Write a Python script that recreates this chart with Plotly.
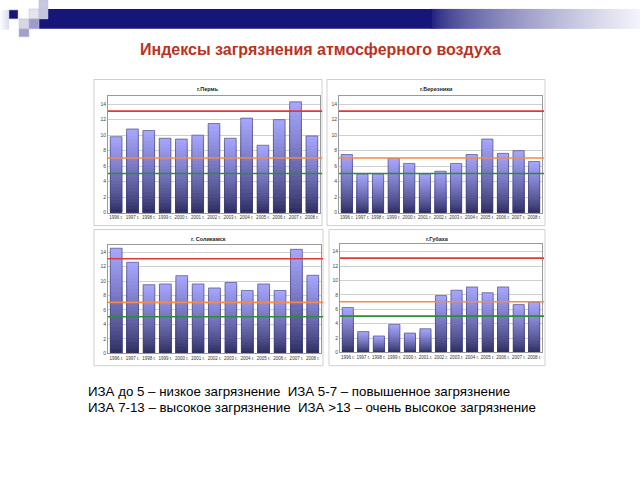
import plotly.graph_objects as go

years = ["1996 г.", "1997 г.", "1998 г.", "1999 г.", "2000 г.", "2001 г.", "2002 г.",
         "2003 г.", "2004 г.", "2005 г.", "2006 г.", "2007 г.", "2008 г."]

perm = [9.8, 10.8, 10.6, 9.6, 9.5, 10.0, 11.5, 9.6, 12.2, 8.7, 12.0, 14.3, 9.9]
berezniki = [7.5, 5.0, 5.0, 7.0, 6.35, 5.0, 5.35, 6.35, 7.5, 9.5, 7.65, 8.0, 6.6]
solikamsk = [14.55, 12.6, 9.5, 9.6, 10.75, 9.6, 9.05, 9.8, 8.7, 9.6, 8.7, 14.4, 10.8]
gubakha = [6.25, 2.9, 2.3, 3.9, 2.7, 3.3, 7.9, 8.65, 9.1, 8.3, 9.1, 6.65, 7.0]

city_titles = ["г.Пермь", "г.Березники", "г. Соликамск", "г.Губаха"]
series = [perm, berezniki, solikamsk, gubakha]
thresholds = [13.1, 7.05, 5.05]
threshold_colors = ["#e0383a", "#f58a4a", "#2f8a3a"]

title_text = "Индексы загрязнения атмосферного воздуха"
legend_lines = ["ИЗА до 5 – низкое загрязнение  ИЗА 5-7 – повышенное загрязнение",
                "ИЗА 7-13 – высокое загрязнение  ИЗА >13 – очень высокое загрязнение"]

W, H = 640, 480

plot_boxes = [(108, 320, 97, 214), (339, 542, 97, 214),
              (108, 321, 246.5, 355.5), (340, 542, 246, 354.7)]
frames = [(94, 322, 80, 227), (327, 545, 80, 227),
          (94, 323, 231, 368), (329, 545, 231, 368)]

def px(x):
    return x / W

def py(y):
    return 1 - y / H

fig = go.Figure()

N = 24
top_c = (168, 168, 255)
bot_c = (40, 40, 90)

for k, vals in enumerate(series):
    xa = "x" if k == 0 else f"x{k+1}"
    ya = "y" if k == 0 else f"y{k+1}"
    for i in range(N):
        frac = (N - i) / N
        t = (frac - 0.5 / N) ** 0.75
        c = tuple(int(bot_c[j] + (top_c[j] - bot_c[j]) * t) for j in range(3))
        fig.add_trace(go.Bar(
            x=years, y=[v * frac for v in vals],
            xaxis=xa, yaxis=ya, marker=dict(color=f"rgb{c}", line=dict(width=0)),
            width=0.72, showlegend=False, hoverinfo="skip"))
    fig.add_trace(go.Bar(
        x=years, y=vals, xaxis=xa, yaxis=ya, width=0.72,
        marker=dict(color="rgba(0,0,0,0)", line=dict(color="#3a3a70", width=0.6)),
        showlegend=False))

layout = dict(width=W, height=H, margin=dict(l=0, r=0, t=0, b=0),
              paper_bgcolor="white", plot_bgcolor="white", barmode="overlay",
              font=dict(family="Liberation Sans, Arial, sans-serif"))

shapes = []
annotations = []

for k, (x0, x1, yt, yb) in enumerate(plot_boxes):
    sfx = "" if k == 0 else str(k + 1)
    layout[f"xaxis{sfx}"] = dict(
        domain=[px(x0), px(x1)], anchor=f"y{sfx}", showgrid=False,
        showline=True, linecolor="#9a9a9a", linewidth=0.8, mirror=True,
        tickfont=dict(size=4.5, color="#333"), tickangle=0, ticks="", fixedrange=True)
    layout[f"yaxis{sfx}"] = dict(
        domain=[py(yb), py(yt)], anchor=f"x{sfx}", range=[0, 15],
        tickvals=[0, 2, 4, 6, 8, 10, 12, 14], showgrid=True, gridcolor="#cfcfcf",
        gridwidth=0.7, showline=True, linecolor="#9a9a9a", linewidth=0.8, mirror=True,
        tickfont=dict(size=5, color="#444"), zeroline=False, ticks="", fixedrange=True)
    for thr, col in zip(thresholds, threshold_colors):
        shapes.append(dict(type="line", xref=f"x{sfx} domain", yref=f"y{sfx}",
                           x0=0, x1=1.01, y0=thr, y1=thr,
                           line=dict(color=col, width=1.6)))
    fx0, fx1, fyt, _ = frames[k]
    annotations.append(dict(text=f"<b>{city_titles[k]}</b>", x=px((fx0 + fx1) / 2),
                            y=py(fyt + 10), xref="paper", yref="paper",
                            xanchor="center", yanchor="middle",
                            showarrow=False, font=dict(size=5.5, color="#222")))

for (x0, x1, yt, yb) in frames:
    shapes.append(dict(type="rect", xref="paper", yref="paper",
                       x0=px(x0), x1=px(x1), y0=py(yb), y1=py(yt),
                       line=dict(color="#c4c4c4", width=0.8), layer="below"))

# decorative header
squares = [
    (9, 18, 10, 19, "rgb(22,22,122)"),
    (39, 48, 0, 9, "rgb(200,200,226)"),
    (29, 39, 9, 19, "rgb(228,228,238)"),
    (39, 48, 9, 19, "rgb(196,196,222)"),
    (19, 29, 19, 29, "rgb(214,214,232)"),
    (29, 39, 19, 29, "rgb(156,156,204)"),
    (19, 29, 29, 37, "rgb(160,160,206)"),
]
for i in range(9):
    t = i / 9
    v = int(250 - 30 * t)
    shapes.append(dict(type="rect", xref="paper", yref="paper",
                       x0=px(i), x1=px(i + 1.05), y0=py(30), y1=py(10),
                       fillcolor=f"rgb({v},{v},{min(255, v + 12)})",
                       line=dict(width=0)))
shapes.append(dict(type="rect", xref="paper", yref="paper", x0=px(48), x1=px(430),
                   y0=py(19), y1=py(9), fillcolor="rgb(22,22,122)", line=dict(width=0)))
shapes.append(dict(type="rect", xref="paper", yref="paper", x0=px(39), x1=px(430),
                   y0=py(29), y1=py(19), fillcolor="rgb(22,22,122)", line=dict(width=0)))
steps = 105
for i in range(steps):
    t0 = i / steps
    xa0 = 430 + 210 * t0
    xa1 = 430 + 210 * (i + 1) / steps + 0.6
    s = t0 ** 0.6
    r = int(22 + (245 - 22) * s)
    b = int(122 + (252 - 122) * s)
    shapes.append(dict(type="rect", xref="paper", yref="paper", x0=px(xa0), x1=px(xa1),
                       y0=py(29), y1=py(9), fillcolor=f"rgb({r},{r},{b})",
                       line=dict(width=0)))
for (x0, x1, y0, y1, col) in squares:
    shapes.append(dict(type="rect", xref="paper", yref="paper", x0=px(x0), x1=px(x1),
                       y0=py(y1), y1=py(y0), fillcolor=col,
                       line=dict(color="rgb(190,190,210)", width=0.5)))

annotations.append(dict(text=f"<b>{title_text}</b>", x=px(320), y=py(50),
                        xref="paper", yref="paper", showarrow=False,
                        xanchor="center", yanchor="middle",
                        font=dict(size=16, color="#b8341f",
                                  family="Liberation Sans, Arial, sans-serif")))
for i, line in enumerate(legend_lines):
    annotations.append(dict(text=line, x=px(86), y=py(394 + i * 16.5), xref="paper",
                            yref="paper", showarrow=False, xanchor="left",
                            yanchor="middle",
                            font=dict(size=13.3, color="#000",
                                      family="Liberation Sans, Arial, sans-serif")))

layout["shapes"] = shapes
layout["annotations"] = annotations
fig.update_layout(**layout)
fig.write_html("out.html", config={"displayModeBar": False},
               post_script="document.body.style.margin='0';")
